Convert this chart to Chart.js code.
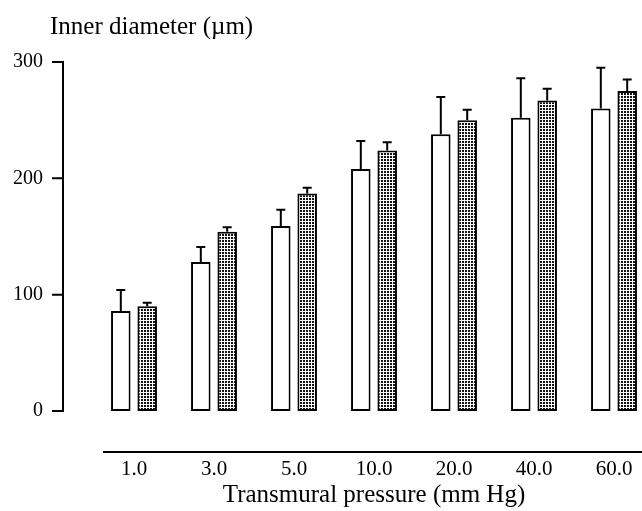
<!DOCTYPE html>
<html>
<head>
<meta charset="utf-8">
<script src="https://cdn.jsdelivr.net/npm/chart.js@4"></script>
<style>
  html, body { margin: 0; padding: 0; background: #fff; overflow: hidden; }
  #wrap { width: 660px; height: 511px; }
</style>
</head>
<body>
<div id="wrap"><canvas id="bar-chart" width="660" height="511"></canvas></div>
<script>
// data
const pressures = ["1.0", "3.0", "5.0", "10.0", "20.0", "40.0", "60.0"];
const openMean = [86, 128, 159, 208, 238, 252, 260];
const openErr = [18, 13, 14, 24, 32, 34, 35];
const dotMean = [90, 154, 187, 224, 250, 267, 275];
const dotErr = [3, 4, 5, 7, 9, 10, 10];
const yTicks = [0, 100, 200, 300];

const serif = "'Liberation Serif', 'DejaVu Serif', serif";

function makeDots() {
  const c = document.createElement("canvas");
  c.width = 3;
  c.height = 3;
  const g = c.getContext("2d");
  g.fillStyle = "#fff";
  g.fillRect(0, 0, 3, 3);
  g.fillStyle = "#111";
  g.fillRect(0, 0, 2, 2);
  return g.createPattern(c, "repeat");
}

// axis lines, ticks, error bars and y title
const extras = {
  id: "extras",
  afterDatasetsDraw(chart) {
    const ctx = chart.ctx;
    const y = chart.scales.y;
    const area = chart.chartArea;
    const errs = [openErr, dotErr];
    const means = [openMean, dotMean];
    ctx.save();
    ctx.strokeStyle = "#000";
    ctx.lineWidth = 2;
    // error bars, upward only
    chart.data.datasets.forEach((ds, i) => {
      const meta = chart.getDatasetMeta(i);
      meta.data.forEach((bar, j) => {
        const top = y.getPixelForValue(means[i][j] + errs[i][j]);
        ctx.beginPath();
        ctx.moveTo(bar.x, bar.y);
        ctx.lineTo(bar.x, top);
        ctx.moveTo(bar.x - 4.5, top);
        ctx.lineTo(bar.x + 4.5, top);
        ctx.stroke();
      });
    });
    // y axis line with ticks on the left
    const ax = area.left - 31;
    ctx.beginPath();
    ctx.moveTo(ax, y.getPixelForValue(0) + 1);
    ctx.lineTo(ax, y.getPixelForValue(300) - 1);
    yTicks.forEach((v) => {
      const py = y.getPixelForValue(v);
      ctx.moveTo(ax - 11, py);
      ctx.lineTo(ax + 1, py);
    });
    ctx.stroke();
    // x axis line, separated from the bars
    ctx.beginPath();
    ctx.moveTo(area.left + 9, area.bottom);
    ctx.lineTo(chart.width, area.bottom);
    ctx.stroke();
    // y axis title
    ctx.fillStyle = "#000";
    ctx.font = "25px " + serif;
    ctx.textAlign = "left";
    ctx.textBaseline = "alphabetic";
    ctx.fillText("Inner diameter (\u00b5m)", area.left - 44, area.top - 28);
    ctx.restore();
  },
};

const chart = new Chart(document.getElementById("bar-chart"), {
  type: "bar",
  data: {
    labels: pressures,
    datasets: [
      {
        data: openMean,
        backgroundColor: "#fff",
        borderColor: "#000",
        borderWidth: 2,
        borderSkipped: false,
      },
      {
        data: dotMean,
        backgroundColor: makeDots(),
        borderColor: "#000",
        borderWidth: 2,
        borderSkipped: false,
      },
    ],
  },
  options: {
    responsive: false,
    animation: false,
    layout: { padding: { top: 62, left: 0, right: 6, bottom: 0 } },
    categoryPercentage: 0.66,
    barPercentage: 0.74,
    plugins: {
      legend: { display: false },
      tooltip: { enabled: false },
    },
    scales: {
      x: {
        grid: { display: false },
        border: { display: false },
        ticks: {
          color: "#000",
          font: { family: serif, size: 21 },
          padding: -3,
          maxRotation: 0,
        },
        title: {
          display: true,
          text: "Transmural pressure (mm Hg)",
          color: "#000",
          font: { family: serif, size: 25 },
          padding: { top: 0, bottom: 1 },
        },
        afterFit(scale) {
          scale.height = 59;
        },
      },
      y: {
        min: -35.2,
        max: 300,
        grid: { display: false },
        border: { display: false },
        ticks: {
          color: "#000",
          font: { family: serif, size: 20 },
          padding: 43,
        },
        afterBuildTicks(scale) {
          scale.ticks = yTicks.map((v) => ({ value: v }));
        },
        afterFit(scale) {
          scale.width = 94;
          // tick padding is only meant to push labels left
          scale.paddingTop = 0;
          scale.paddingBottom = 0;
        },
      },
    },
  },
  plugins: [extras],
});
</script>
</body>
</html>
